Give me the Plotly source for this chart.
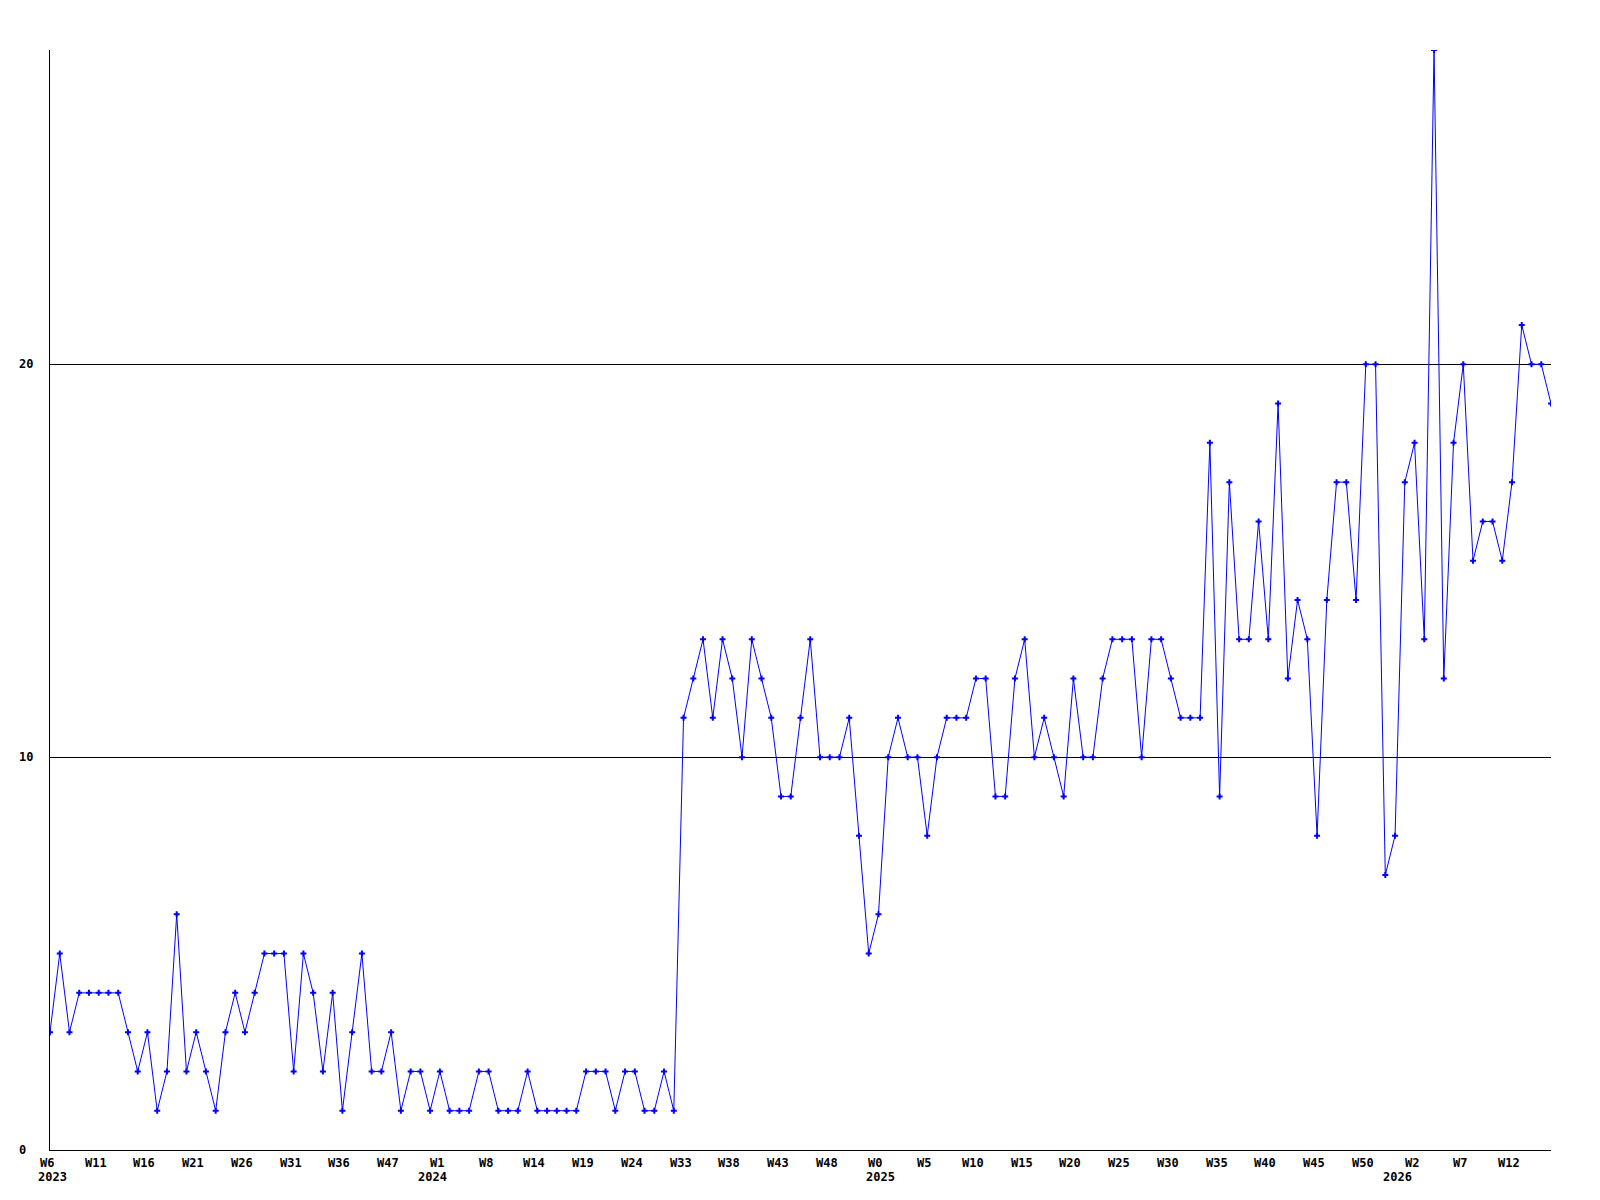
import plotly.graph_objects as go

# weekly counts, one per point (index positions on a categorical week axis)
values = [
    3, 5, 3, 4, 4, 4, 4, 4, 3, 2,
    3, 1, 2, 6, 2, 3, 2, 1, 3, 4,
    3, 4, 5, 5, 5, 2, 5, 4, 2, 4,
    1, 3, 5, 2, 2, 3, 1, 2, 2, 1,
    2, 1, 1, 1, 2, 2, 1, 1, 1, 2,
    1, 1, 1, 1, 1, 2, 2, 2, 1, 2,
    2, 1, 1, 2, 1,
    11, 12, 13, 11, 13, 12, 10, 13, 12, 11,
    9, 9, 11, 13, 10, 10, 10, 11, 8, 5,
    6, 10, 11, 10, 10, 8, 10, 11, 11, 11,
    12, 12, 9, 9, 12, 13, 10, 11, 10,
    9, 12, 10, 10, 12, 13, 13, 13, 10, 13,
    13, 12, 11, 11, 11, 18, 9, 17, 13, 13,
    16, 13, 19, 12, 14, 13, 8,
    14, 17, 17, 14, 20, 20, 7, 8, 17, 18,
    13, 28, 12, 18, 20, 15, 16, 16, 15, 17,
    21, 20, 20, 19,
]

# x tick labels, one every 5 points
week_labels = [
    "W6", "W11", "W16", "W21", "W26", "W31", "W36", "W47",
    "W1", "W8", "W14", "W19", "W24", "W33", "W38", "W43", "W48",
    "W0", "W5", "W10", "W15", "W20", "W25", "W30", "W35", "W40",
    "W45", "W50", "W2", "W7", "W12",
]
year_labels = ["2023", "2024", "2025", "2026"]
year_anchor = [0.3, 39.2, 85.2, 138.3]   # point index the year label sits under
tick_step = 5
y_ticks = [0, 10, 20]
y_max = 28

x = list(range(len(values)))

FONT = dict(family="DejaVu Sans Mono", size=12, color="black", weight="bold")
PLOT_W = 1501

fig = go.Figure()
fig.add_trace(go.Scatter(
    x=x, y=values, mode="lines+markers",
    line=dict(color="#0000ff", width=1),
    marker=dict(symbol="cross", size=5, color="#0000ff", line=dict(width=0)),
    hoverinfo="x+y", showlegend=False,
))

fig.update_layout(
    width=1592, height=1192,
    margin=dict(l=42, r=49, t=42, b=50),
    paper_bgcolor="white", plot_bgcolor="white",
    xaxis=dict(
        range=[0, len(values) - 1],
        showticklabels=False, ticks="", showgrid=False, zeroline=False,
        showline=True, linecolor="black", linewidth=1, automargin=False,
    ),
    yaxis=dict(
        range=[0, y_max],
        tickmode="array", tickvals=[v for v in y_ticks if v > 0],
        showticklabels=False, ticks="",
        showgrid=True, gridcolor="black", gridwidth=1,
        zeroline=False, showline=True, linecolor="black", linewidth=1,
        automargin=False,
    ),
)

for v in y_ticks:
    fig.add_annotation(
        x=-33 / PLOT_W, xref="paper", y=v, yref="y",
        text=str(v), showarrow=False, xanchor="left", yanchor="middle",
        font=FONT,
    )

for i, lab in enumerate(week_labels):
    fig.add_annotation(
        x=i * tick_step, xref="x", y=0, yref="paper",
        text=lab, showarrow=False, xanchor="center", yanchor="middle",
        xshift=-3, yshift=-13, font=FONT,
    )

for lab, pos in zip(year_labels, year_anchor):
    fig.add_annotation(
        x=pos, xref="x", y=0, yref="paper",
        text=lab, showarrow=False, xanchor="center", yanchor="middle",
        yshift=-27, font=FONT,
    )

fig.write_html("out.html")
